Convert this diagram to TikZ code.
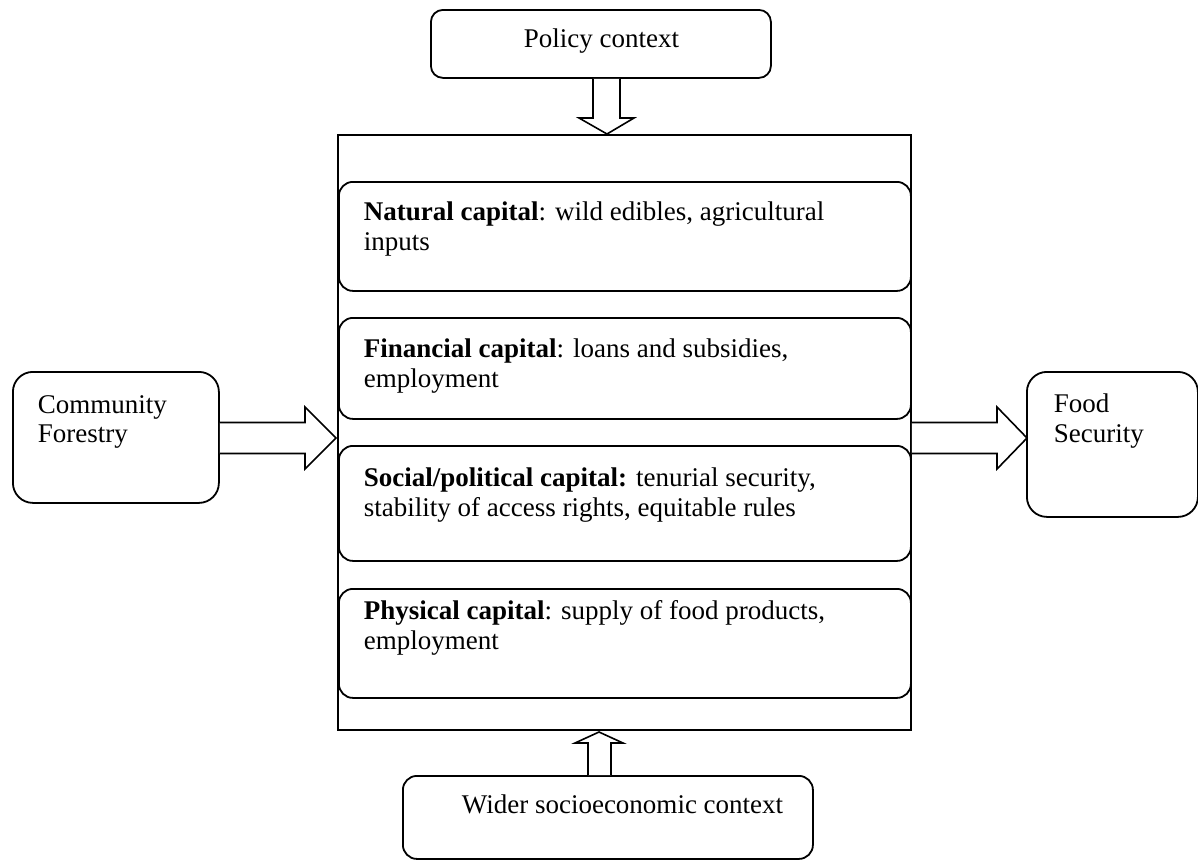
\documentclass[tikz,border=0pt]{standalone}
\usepackage{fontspec}
\setmainfont{Liberation Serif}
\usetikzlibrary{calc}
\begin{document}
\begin{tikzpicture}[x=1pt,y=-1pt,line width=1.8pt,
  box/.style={draw,inner sep=0pt,anchor=north west},
  rbox/.style={box,rounded corners=#1},
  txt/.style={anchor=base west,inner sep=0pt,font=\fontsize{27}{30}\selectfont},
  blk/.style={draw,line width=1.6pt,line join=miter,fill=white}]
\useasboundingbox (0,0) rectangle (1198,862);
% boxes
\node[rbox=12,minimum width=340pt,minimum height=68pt] (pol) at (430,9) {};
\node[box,minimum width=573pt,minimum height=595pt] (main) at (337,134) {};
\node[rbox=14,minimum width=572pt,minimum height=109pt] (nat) at (338,181) {};
\node[rbox=14,minimum width=572pt,minimum height=101pt] (fin) at (338,317) {};
\node[rbox=14,minimum width=572pt,minimum height=115pt] (soc) at (338,445) {};
\node[rbox=14,minimum width=572pt,minimum height=109pt] (phy) at (338,588) {};
\node[rbox=20,minimum width=206pt,minimum height=131pt] (cf) at (12,371) {};
\node[rbox=20,minimum width=171pt,minimum height=145pt] (fs) at (1026,371) {};
\node[rbox=14,minimum width=410pt,minimum height=83pt] (wid) at (402,775) {};
% texts
\node[txt] (tpol) at (523,47) {Policy context};
\node[txt] (tnat1) at (363,220) {\textbf{Natural capital}: wild edibles, agricultural};
\node[txt] (tnat2) at (363,250) {inputs};
\node[txt] (tfin1) at (363,357) {\textbf{Financial capital}: loans and subsidies,};
\node[txt] (tfin2) at (363,387) {employment};
\node[txt] (tsoc1) at (363,486) {\textbf{Social/political capital:} tenurial security,};
\node[txt] (tsoc2) at (363,516) {stability of access rights, equitable rules};
\node[txt] (tphy1) at (363,619) {\textbf{Physical capital}: supply of food products,};
\node[txt] (tphy2) at (363,649) {employment};
\node[txt] (tcf1) at (37,413) {Community};
\node[txt] (tcf2) at (37,442) {Forestry};
\node[txt] (tfs1) at (1053,412) {Food};
\node[txt] (tfs2) at (1053,442) {Security};
\node[txt] (twid) at (461,813) {Wider socioeconomic context};
% arrow tips
\coordinate (tipD) at (607,134);
\coordinate (tipU) at (599,732);
\coordinate (tipL) at (336,438);
\coordinate (tipR) at (1027,438);
% down arrow (policy -> main)
\draw[blk] (pol.south -| 593,0) -- (593,118) -- (579,118) -- (tipD) -- (634,118) -- (620,118) -- (pol.south -| 620,0);
% up arrow (wider -> main)
\draw[blk] (wid.north -| 588,0) -- (588,743) -- (575,743) -- (tipU) -- (623,743) -- (611,743) -- (wid.north -| 611,0);
% left arrow (community -> main)
\draw[blk] (cf.east |- 0,422.5) -- (305,422.5) -- (305,407) -- (tipL) -- (305,469) -- (305,453.5) -- (cf.east |- 0,453.5);
% right arrow (main -> food)
\draw[blk] (main.east |- 0,422.5) -- (997,422.5) -- (997,407) -- (tipR) -- (997,469) -- (997,453.5) -- (main.east |- 0,453.5);
\end{tikzpicture}
\end{document}
